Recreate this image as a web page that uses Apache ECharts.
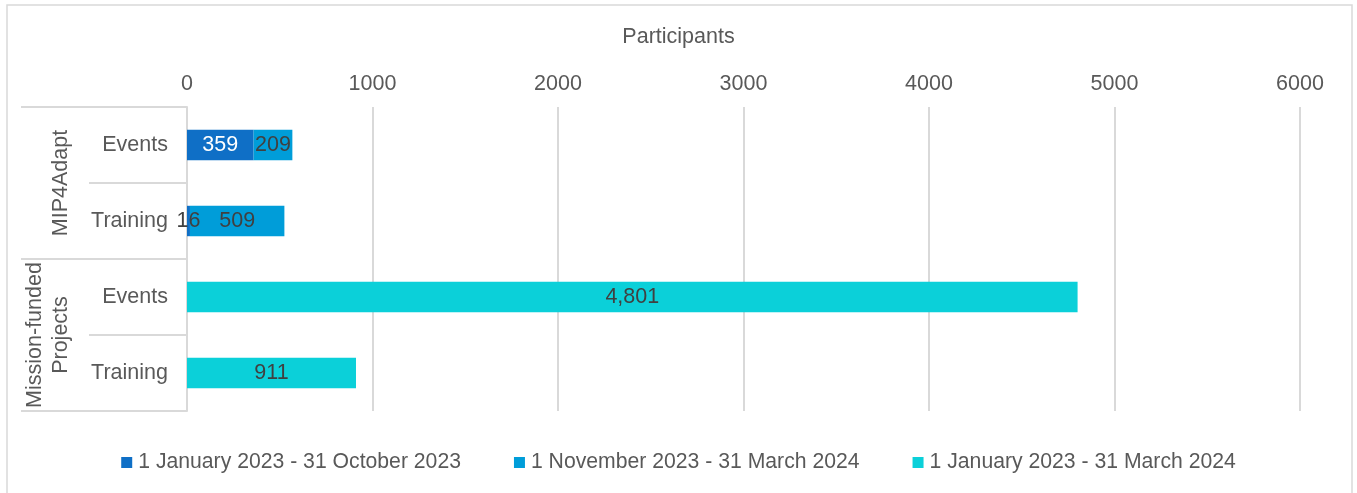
<!DOCTYPE html>
<html>
<head>
<meta charset="utf-8">
<script src="https://cdn.jsdelivr.net/npm/echarts@6/dist/echarts.min.js"></script>
<style>
html,body{margin:0;padding:0;background:#fff;}
#chart{width:1357px;height:493px;}
</style>
</head>
<body>
<div id="chart"></div>
<script>
const categories = ['Events', 'Training', 'Events', 'Training'];
const groups = ['MIP4Adapt', 'Mission-funded\nProjects'];
const seriesNames = ['1 January 2023 - 31 October 2023', '1 November 2023 - 31 March 2024', '1 January 2023 - 31 March 2024'];
const jan23Oct23 = [359, 16, null, null];
const nov23Mar24 = [209, 509, null, null];
const jan23Mar24 = [null, null, 4801, 911];
const xTicks = { min: 0, max: 6000, interval: 1000 };
const axisTitle = 'Participants';

const FONT = 'Liberation Sans, Arial, sans-serif';
const FS = 21.5;
const LEG_FS = 21.2;
const GREY = '#595959';
const DARK = '#404040';
const LINE = '#d9d9d9';
const colors = ['#0F6FC6', '#009DD9', '#0BD0D9'];

function fmt(v) { return v.toLocaleString('en-US'); }

function buildData(arr, labelColors) {
  return arr.map((v, i) => {
    if (v == null) return null;
    const item = { value: v };
    if (labelColors && labelColors[i]) item.label = { color: labelColors[i] };
    return item;
  });
}

const chart = echarts.init(document.getElementById('chart'));
const labelBase = {
  show: true, position: 'inside', fontFamily: FONT, fontSize: FS, color: DARK,
  formatter: p => fmt(p.value)
};
chart.setOption({
  animation: false,
  textStyle: { fontFamily: FONT },
  title: {
    text: axisTitle, left: 'center', top: 26, padding: 0,
    textStyle: { fontFamily: FONT, fontSize: FS, fontWeight: 'normal', color: GREY }
  },
  graphic: [{
    type: 'rect', shape: { x: 7, y: 5, width: 1345, height: 500 },
    style: { fill: null, stroke: LINE, lineWidth: 1.5 }, silent: true, z: -10
  }],
  grid: { left: 187, right: 57, top: 107, bottom: 82, containLabel: false },
  legend: {
    bottom: 15, left: 'center', itemWidth: 11, itemHeight: 11, itemGap: 53, icon: 'rect',
    textStyle: { fontFamily: FONT, fontSize: LEG_FS, color: GREY, padding: [0, 0, 0, 1] },
    data: seriesNames
  },
  xAxis: {
    type: 'value', position: 'top', min: xTicks.min, max: xTicks.max, interval: xTicks.interval,
    axisLine: { show: false }, axisTick: { show: false },
    axisLabel: { fontFamily: FONT, fontSize: FS, color: GREY, margin: 12, formatter: v => String(v) },
    splitLine: { lineStyle: { color: LINE, width: 2 } }
  },
  yAxis: [{
    type: 'category', data: categories, inverse: true, position: 'left',
    axisLine: { show: true, lineStyle: { color: LINE, width: 2 } },
    axisTick: { show: true, length: 98, interval: 0, lineStyle: { color: LINE, width: 2 } },
    axisLabel: { fontFamily: FONT, fontSize: FS, color: GREY, margin: 19, interval: 0 },
    splitLine: { show: false }
  }, {
    type: 'category', data: groups, inverse: true, position: 'left',
    axisLine: { show: false },
    axisTick: { show: true, length: 166, interval: 0, lineStyle: { color: LINE, width: 2 } },
    axisLabel: { fontFamily: FONT, fontSize: FS, color: GREY, margin: 113, interval: 0, rotate: 90, lineHeight: 26 },
    splitLine: { show: false }
  }],
  series: [
    { name: seriesNames[0], type: 'bar', stack: 'a', barWidth: '40%', itemStyle: { color: colors[0] },
      label: Object.assign({}, labelBase, { color: '#ffffff' }),
      data: buildData(jan23Oct23, [null, DARK]) },
    { name: seriesNames[1], type: 'bar', stack: 'a', barWidth: '40%', itemStyle: { color: colors[1] },
      label: labelBase, data: buildData(nov23Mar24) },
    { name: seriesNames[2], type: 'bar', stack: 'a', barWidth: '40%', itemStyle: { color: colors[2] },
      label: labelBase, data: buildData(jan23Mar24) }
  ]
});
</script>
</body>
</html>
